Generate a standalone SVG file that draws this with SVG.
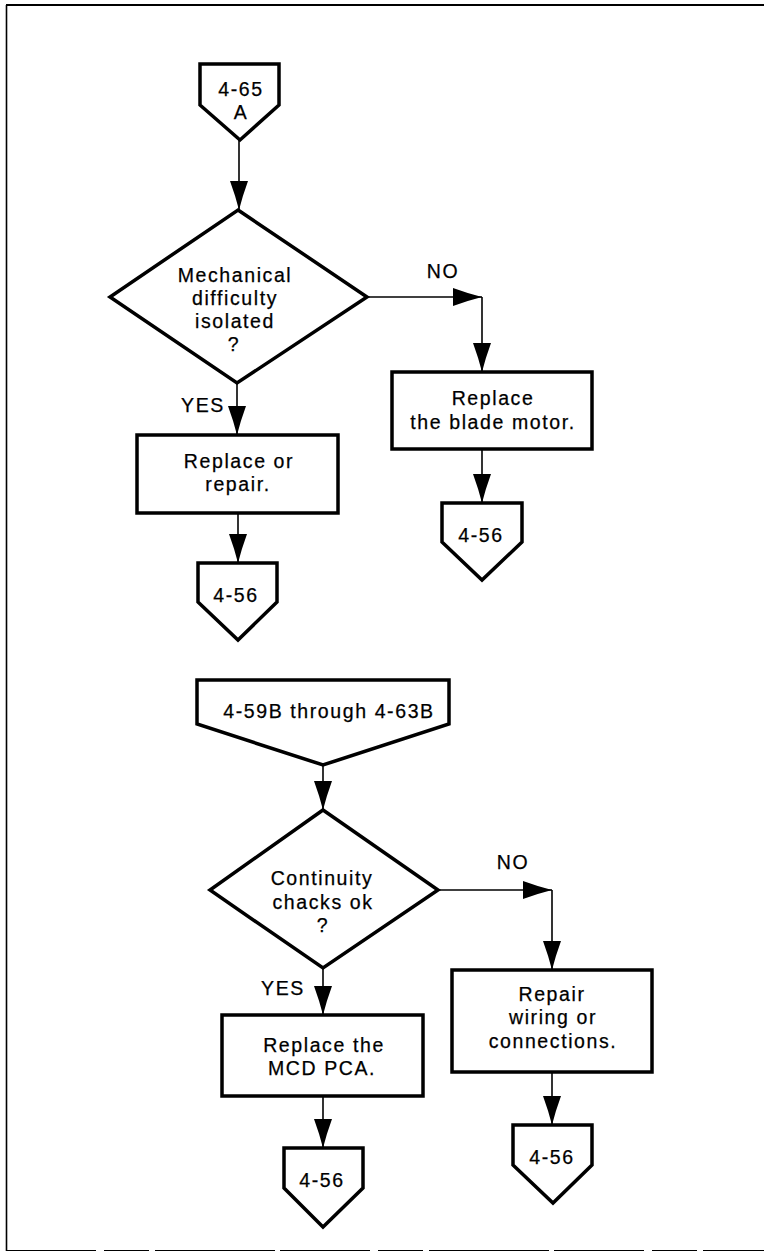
<svg xmlns="http://www.w3.org/2000/svg" width="764" height="1253" viewBox="0 0 764 1253">
  <style>
    .shape { fill: #ffffff; stroke: #000000; stroke-width: 3.5; stroke-linejoin: miter; }
    .conn { fill: none; stroke: #000000; stroke-width: 1.6; }
    .lbl { font-family: "Liberation Sans", Arial, Helvetica, sans-serif; font-size: 19.5px; letter-spacing: 1.6px; fill: #000000; stroke: #000000; stroke-width: 0.25; text-anchor: middle; }
    .frame { stroke: #000000; fill: none; }
  </style>
  <defs>
    <marker id="arrow" viewBox="0 0 29 18" refX="29" refY="9" markerWidth="29" markerHeight="18" markerUnits="userSpaceOnUse" orient="auto">
      <path d="M0,0 Q15,5.5 29,9 Q15,12.5 0,18 Z" fill="#000000"/>
    </marker>
  </defs>

  <rect width="764" height="1253" fill="#ffffff"/>

  <!-- page frame -->
  <g id="frame">
    <line class="frame" x1="6" y1="5" x2="764" y2="5" stroke-width="2.2"/>
    <line class="frame" x1="6.5" y1="5" x2="6.5" y2="1251" stroke-width="1.6"/>
    <line class="frame" x1="6" y1="1250.5" x2="764" y2="1250.5" stroke-width="1.2" stroke="#9a9a9a" stroke-dasharray="90 8 45 6 120 5"/>
  </g>

  <!-- connectors -->
  <g id="connectors">
    <path class="conn" d="M239,140 L239,210" marker-end="url(#arrow)"/>
    <path class="conn" d="M237,383 L237,435" marker-end="url(#arrow)"/>
    <path class="conn" d="M367,297 L482,297" marker-end="url(#arrow)"/>
    <path class="conn" d="M482,297 L482,372" marker-end="url(#arrow)"/>
    <path class="conn" d="M238,513 L238,563" marker-end="url(#arrow)"/>
    <path class="conn" d="M482,449 L482,503" marker-end="url(#arrow)"/>
    <path class="conn" d="M323,765 L323,810" marker-end="url(#arrow)"/>
    <path class="conn" d="M323,968 L323,1015" marker-end="url(#arrow)"/>
    <path class="conn" d="M438,890 L552,890" marker-end="url(#arrow)"/>
    <path class="conn" d="M552,890 L552,970" marker-end="url(#arrow)"/>
    <path class="conn" d="M323,1096 L323,1148" marker-end="url(#arrow)"/>
    <path class="conn" d="M552,1072 L552,1125" marker-end="url(#arrow)"/>
  </g>

  <!-- branch labels -->
  <g id="branch-labels">
    <text class="lbl" x="443" y="278">NO</text>
    <text class="lbl" x="203" y="412">YES</text>
    <text class="lbl" x="513" y="869">NO</text>
    <text class="lbl" x="283" y="995">YES</text>
  </g>

  <!-- first chart -->
  <g id="ref-4-65A">
    <polygon class="shape" points="200,64 279,64 279,105 240,140 200,105"/>
    <text class="lbl" x="241" y="96">4-65</text>
    <text class="lbl" x="241" y="119">A</text>
  </g>

  <g id="q-mechanical">
    <polygon class="shape" points="238,210 367,297 237,383 110,297"/>
    <text class="lbl" x="235" y="282">Mechanical</text>
    <text class="lbl" x="235" y="305">difficulty</text>
    <text class="lbl" x="235" y="328">isolated</text>
    <text class="lbl" x="234" y="351">?</text>
  </g>

  <g id="replace-repair">
    <rect class="shape" x="137" y="435" width="201" height="78"/>
    <text class="lbl" x="239" y="468">Replace or</text>
    <text class="lbl" x="238" y="491">repair.</text>
  </g>

  <g id="replace-blade-motor">
    <rect class="shape" x="392" y="372" width="200" height="77"/>
    <text class="lbl" x="493" y="405">Replace</text>
    <text class="lbl" x="493" y="429">the blade motor.</text>
  </g>

  <g id="ref-4-56-a">
    <polygon class="shape" points="198,563 277,563 277,602 238,640 198,602"/>
    <text class="lbl" x="236" y="602">4-56</text>
  </g>

  <g id="ref-4-56-b">
    <polygon class="shape" points="442,503 522,503 522,542 482,580 442,542"/>
    <text class="lbl" x="481" y="542">4-56</text>
  </g>

  <!-- second chart -->
  <g id="ref-4-59B-4-63B">
    <polygon class="shape" points="197,680 449,680 449,724 323,765 197,724"/>
    <text class="lbl" x="329" y="718">4-59B through 4-63B</text>
  </g>

  <g id="q-continuity">
    <polygon class="shape" points="323,810 438,890 323,968 210,890"/>
    <text class="lbl" x="322" y="885">Continuity</text>
    <text class="lbl" x="323" y="909">chacks ok</text>
    <text class="lbl" x="323" y="932">?</text>
  </g>

  <g id="replace-mcd-pca">
    <rect class="shape" x="222" y="1015" width="201" height="81"/>
    <text class="lbl" x="324" y="1052">Replace the</text>
    <text class="lbl" x="322" y="1075">MCD PCA.</text>
  </g>

  <g id="repair-wiring">
    <rect class="shape" x="452" y="970" width="200" height="102"/>
    <text class="lbl" x="552" y="1001">Repair</text>
    <text class="lbl" x="553" y="1024">wiring or</text>
    <text class="lbl" x="553" y="1048">connections.</text>
  </g>

  <g id="ref-4-56-c">
    <polygon class="shape" points="284,1148 363,1148 363,1188 323,1227 284,1188"/>
    <text class="lbl" x="322" y="1187">4-56</text>
  </g>

  <g id="ref-4-56-d">
    <polygon class="shape" points="513,1125 592,1125 592,1165 553,1203 513,1165"/>
    <text class="lbl" x="552" y="1164">4-56</text>
  </g>
</svg>
